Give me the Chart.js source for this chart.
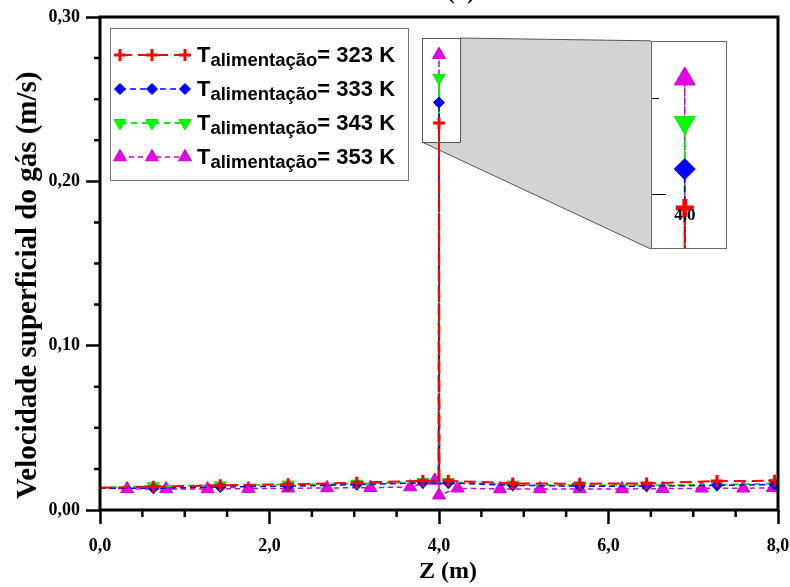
<!DOCTYPE html>
<html><head><meta charset="utf-8">
<script src="https://cdn.jsdelivr.net/npm/chart.js@4.4.0/dist/chart.umd.min.js"></script>
<style>
html,body{margin:0;padding:0;background:#fff;}
#wrap{position:relative;width:790px;height:587px;overflow:hidden;}
#main{position:absolute;left:0;top:0;}
#insetBox{position:absolute;}
#inset{display:block;}
</style>
</head><body>
<div id="wrap"><canvas id="main" width="790" height="587"></canvas><div id="insetBox"><canvas id="inset"></canvas></div></div>
<script>
// ---- data ----
const seriesTemps = ['323 K', '333 K', '343 K', '353 K'];
const zRed   = [0, 0.63, 1.42, 2.22, 3.03, 3.81, 3.995, 4.0, 4.005, 4.11, 4.87, 5.66, 6.45, 7.28, 7.96, 8.0];
const vRed   = [0.0135, 0.0142, 0.0150, 0.0156, 0.0166, 0.0178, 0.0176, 0.2355, 0.0172, 0.0178, 0.0162, 0.0160, 0.0162, 0.0176, 0.0178, 0.0180];
const zBlue  = [0, 0.63, 1.42, 2.22, 3.03, 3.81, 3.995, 4.0, 4.005, 4.11, 4.87, 5.66, 6.45, 7.28, 7.96, 8.0];
const vBlue  = [0.0133, 0.0132, 0.0140, 0.0145, 0.0155, 0.0165, 0.0165, 0.2480, 0.0160, 0.0165, 0.0150, 0.0145, 0.0145, 0.0150, 0.0155, 0.0155];
const zGreen = [0, 0.63, 1.42, 2.22, 3.03, 3.81, 3.995, 4.0, 4.005, 4.11, 4.87, 5.66, 6.45, 7.28, 7.96, 8.0];
const vGreen = [0.0136, 0.0145, 0.0150, 0.0155, 0.0160, 0.0170, 0.0170, 0.2630, 0.0165, 0.0170, 0.0155, 0.0150, 0.0150, 0.0155, 0.0160, 0.0160];
const zMag   = [0, 0.32, 0.78, 1.27, 1.75, 2.22, 2.68, 3.19, 3.66, 3.95, 3.995, 4.0, 4.0, 4.22, 4.72, 5.19, 5.66, 6.16, 6.64, 7.10, 7.59, 7.94, 8.0];
const vMag   = [0.0135, 0.0128, 0.0128, 0.0128, 0.0130, 0.0132, 0.0134, 0.0136, 0.0140, 0.0180, 0.0165, 0.2770, 0.0090, 0.0132, 0.0128, 0.0128, 0.0128, 0.0128, 0.0130, 0.0132, 0.0132, 0.0135, 0.0140];
const xTickStep = 2, yTickStep = 0.1;
const xMinorStep = 0.5, yMinorStep = 0.025;
// magnified region and where the magnified view is placed (data units)
const zoomZ = [3.8, 4.25], zoomV = [0.2239, 0.2872];
const insetZ = [6.5, 7.4], insetV = [0.1588, 0.2855];
const insetRangeV = [0.2223, 0.2892];
const insetTickV = [0.271, 0.24];

const serif = '"Liberation Serif", "Times New Roman", serif';
const sans = '"Liberation Sans", Arial, sans-serif';
const nb = n => '\u00a0'.repeat(n);
const comma = (v, d) => v.toFixed(d).replace('.', ',');
const toXY = (zs, vs) => zs.map((z, i) => ({x: z, y: vs[i]}));
const unmarked = z => z === 0 || z === 8 || z === 3.995 || z === 4.005;

const styles = [
  {color: '#ff0000', fill: '#ff0000', pointStyle: 'cross', r: 6, rBig: 9, bw: 3, bwBig: 5, rot: 0, dash: [12, 6], lw: 2},
  {color: '#0000ff', fill: '#0000ff', pointStyle: 'rectRot', r: 5.5, rBig: 10.5, bw: 1, bwBig: 1, rot: 0, dash: [6, 4], lw: 1.5},
  {color: '#00ee00', fill: '#00ff00', pointStyle: 'triangle', r: 7, rBig: 12, bw: 1, bwBig: 1, rot: 180, dash: [6, 5], lw: 2},
  {color: '#d000d0', fill: '#e600e6', pointStyle: 'triangle', r: 7.5, rBig: 12, bw: 1, bwBig: 1, rot: 0, dash: [5, 4], lw: 1.5}
];
const seriesData = [toXY(zRed, vRed), toXY(zBlue, vBlue), toXY(zGreen, vGreen), toXY(zMag, vMag)];

function makeDatasets(big) {
  return seriesData.map((d, i) => {
    const s = styles[i];
    return {
      label: seriesTemps[i],
      data: d,
      borderColor: s.color,
      backgroundColor: s.fill,
      borderWidth: s.lw,
      borderDash: s.dash,
      pointStyle: s.pointStyle,
      pointRotation: s.rot,
      pointBorderColor: s.color,
      pointBackgroundColor: s.fill,
      pointBorderWidth: big ? s.bwBig : s.bw,
      pointRadius: ctx => unmarked(ctx.raw.x) ? 0 : (big ? s.rBig : s.r),
      pointHoverRadius: 0,
      tension: 0,
      fill: false
    };
  });
}

const decor = {
  id: 'decor',
  beforeDatasetsDraw(chart) {
    const {ctx, scales: {x, y}} = chart;
    const sx0 = x.getPixelForValue(zoomZ[0]), sx1 = x.getPixelForValue(zoomZ[1]);
    const sy0 = y.getPixelForValue(zoomV[1]), sy1 = y.getPixelForValue(zoomV[0]);
    const ix0 = x.getPixelForValue(insetZ[0]);
    const iy0 = y.getPixelForValue(insetV[1]), iy1 = y.getPixelForValue(insetV[0]);
    ctx.save();
    ctx.fillStyle = '#d3d3d3';
    ctx.beginPath();
    ctx.moveTo(sx1, sy0); ctx.lineTo(ix0, iy0); ctx.lineTo(ix0, iy1); ctx.lineTo(sx0, sy1);
    ctx.closePath(); ctx.fill();
    ctx.strokeStyle = '#555'; ctx.lineWidth = 1;
    ctx.beginPath();
    ctx.moveTo(sx1, sy0); ctx.lineTo(ix0, iy0);
    ctx.moveTo(sx0, sy1); ctx.lineTo(ix0, iy1);
    ctx.stroke();
    ctx.fillStyle = '#fff';
    ctx.fillRect(sx0, sy0, sx1 - sx0, sy1 - sy0);
    ctx.strokeRect(Math.round(sx0) + 0.5, Math.round(sy0) + 0.5, Math.round(sx1 - sx0), Math.round(sy1 - sy0));
    ctx.restore();
  },
  afterDraw(chart) {
    const {ctx, chartArea: a, scales: {x, y}} = chart;
    ctx.save();
    // minor ticks
    ctx.strokeStyle = '#000'; ctx.lineWidth = 2.5;
    ctx.beginPath();
    for (let v = xMinorStep; v < x.max; v += xMinorStep) {
      if (Math.abs(v / xTickStep - Math.round(v / xTickStep)) < 1e-6) continue;
      const px = x.getPixelForValue(v);
      ctx.moveTo(px, a.bottom); ctx.lineTo(px, a.bottom + 7);
    }
    for (let v = yMinorStep; v < y.max - 1e-9; v += yMinorStep) {
      if (Math.abs(v / yTickStep - Math.round(v / yTickStep)) < 1e-6) continue;
      const py = y.getPixelForValue(v);
      ctx.moveTo(a.left, py); ctx.lineTo(a.left - 6, py);
    }
    ctx.stroke();
    // frame
    ctx.lineWidth = 3;
    ctx.strokeRect(a.left, a.top, a.right - a.left, a.bottom - a.top);
    // legend
    const lx = a.left + 10, ly = a.top + 11, lw = 298, lh = 152;
    ctx.fillStyle = '#fff';
    ctx.fillRect(lx, ly, lw, lh);
    ctx.strokeStyle = '#777'; ctx.lineWidth = 1;
    ctx.strokeRect(lx + 0.5, ly + 0.5, lw, lh);
    seriesTemps.forEach((t, i) => {
      const s = styles[i];
      const ry = ly + 27 + i * 34;
      const mx = [lx + 10, lx + 42, lx + 75];
      ctx.save();
      ctx.strokeStyle = s.color; ctx.lineWidth = s.lw; ctx.setLineDash(s.dash);
      ctx.beginPath(); ctx.moveTo(mx[0], ry); ctx.lineTo(mx[2], ry); ctx.stroke();
      ctx.setLineDash([]);
      ctx.fillStyle = s.fill; ctx.strokeStyle = s.color; ctx.lineWidth = s.bw;
      mx.forEach(px => Chart.helpers.drawPoint(ctx, {pointStyle: s.pointStyle, radius: s.r, rotation: s.rot, borderWidth: s.bw}, px, ry));
      ctx.restore();
      ctx.fillStyle = '#000'; ctx.textBaseline = 'alphabetic'; ctx.textAlign = 'left';
      let tx = lx + 87;
      ctx.font = 'bold 22px ' + sans;
      ctx.fillText('T', tx, ry + 7); tx += ctx.measureText('T').width;
      ctx.font = 'bold 18.5px ' + sans;
      ctx.fillText('alimentação', tx, ry + 11); tx += ctx.measureText('alimentação').width;
      ctx.font = 'bold 22px ' + sans;
      ctx.fillText('= ' + t, tx, ry + 7);
    });
    // title (cut off at the top)
    ctx.font = 'bold 24px ' + serif;
    ctx.textAlign = 'center';
    ctx.fillText('(a)', x.getPixelForValue(4.26), -1);
    ctx.restore();
  }
};

const main = new Chart(document.getElementById('main'), {
  type: 'line',
  data: {datasets: makeDatasets(false)},
  options: {
    responsive: false, animation: false, events: [],
    layout: {padding: {top: 17, right: 12, left: 0, bottom: 0}},
    plugins: {legend: {display: false}, tooltip: {enabled: false}},
    scales: {
      x: {
        type: 'linear', min: 0, max: 8,
        afterFit: s => { s.height = 77; s.paddingRight = 0; s.paddingLeft = 0; },
        border: {display: false},
        grid: {drawOnChartArea: false, drawTicks: true, tickLength: 14, tickWidth: 2.5, tickColor: '#000'},
        ticks: {stepSize: xTickStep, padding: 12, color: '#000', maxRotation: 0,
          font: {family: serif, size: 18, weight: 'bold'}, callback: v => comma(v, 1)},
        title: {display: true, text: nb(3) + 'Z (m)', color: '#000', padding: {top: 0, bottom: 1},
          font: {family: serif, size: 24, weight: 'bold'}}
      },
      y: {
        type: 'linear', min: 0, max: 0.30,
        afterFit: s => { s.width = 100; s.paddingTop = 0; s.paddingBottom = 0; },
        border: {display: false},
        grid: {drawOnChartArea: false, drawTicks: true, tickLength: 14, tickWidth: 2.5, tickColor: '#000'},
        ticks: {stepSize: yTickStep, padding: 6, color: '#000',
          font: {family: serif, size: 18, weight: 'bold'}, callback: v => comma(v, 2)},
        title: {display: true, text: 'Velocidade superficial do gás (m/s)' + nb(6), color: '#000', padding: {top: 11, bottom: 0},
          font: {family: serif, size: 29, weight: 'bold'}}
      }
    }
  },
  plugins: [decor]
});

// ---- magnified inset ----
const xs = main.scales.x, ys = main.scales.y;
const L = Math.round(xs.getPixelForValue(insetZ[0])), R = Math.round(xs.getPixelForValue(insetZ[1]));
const T = Math.round(ys.getPixelForValue(insetV[1])), B = Math.round(ys.getPixelForValue(insetV[0]));
const box = document.getElementById('insetBox');
box.style.left = L + 'px'; box.style.top = T + 'px';
const icv = document.getElementById('inset');
icv.width = R - L; icv.height = B - T;

const insetDecor = {
  id: 'insetDecor',
  beforeDraw(chart) {
    const {ctx, width, height} = chart;
    ctx.save(); ctx.fillStyle = '#fff'; ctx.fillRect(0, 0, width, height); ctx.restore();
  },
  afterDraw(chart) {
    const {ctx, width, height, scales: {x, y}} = chart;
    ctx.save();
    ctx.strokeStyle = '#000'; ctx.lineWidth = 1;
    ctx.beginPath();
    insetTickV.forEach((v, i) => {
      const py = Math.round(y.getPixelForValue(v)) + 0.5;
      ctx.moveTo(0, py); ctx.lineTo(i === 0 ? 8 : 15, py);
    });
    ctx.stroke();
    ctx.fillStyle = '#000'; ctx.font = 'bold 17px ' + serif;
    ctx.textAlign = 'center'; ctx.textBaseline = 'middle';
    ctx.fillText(comma(4, 1), x.getPixelForValue(4.0), height - 33);
    ctx.strokeStyle = '#666';
    ctx.strokeRect(0.5, 0.5, width - 1, height - 1);
    ctx.restore();
  }
};

new Chart(icv, {
  type: 'line',
  data: {datasets: makeDatasets(true)},
  options: {
    responsive: false, animation: false, events: [],
    layout: {padding: 0},
    plugins: {legend: {display: false}, tooltip: {enabled: false}},
    scales: {
      x: {type: 'linear', display: false, min: zoomZ[0], max: zoomZ[1]},
      y: {type: 'linear', display: false, min: insetRangeV[0], max: insetRangeV[1]}
    }
  },
  plugins: [insetDecor]
});
</script>
</body></html>
